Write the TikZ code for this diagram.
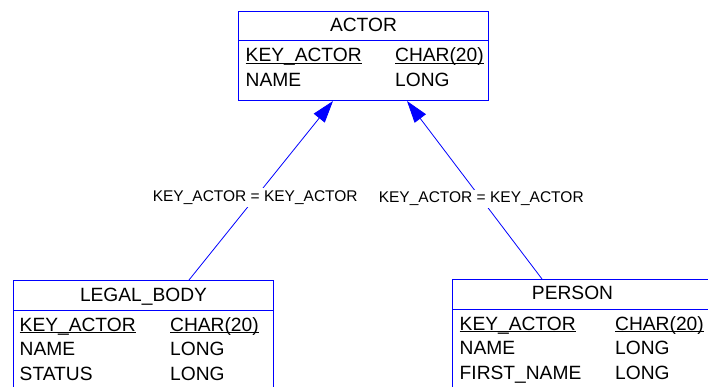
\documentclass[tikz,border=0pt]{standalone}
\usepackage{fontspec}
\setmainfont{Liberation Sans}
\usetikzlibrary{arrows.meta}

\begin{document}
\begin{tikzpicture}[x=1pt, y=-1pt,
    tbl/.style={draw=blue, line width=1pt, rectangle, inner sep=0pt, anchor=north west},
    title/.style={anchor=base, inner sep=0pt, font=\fontsize{19.2}{19}\selectfont},
    field/.style={anchor=base west, inner sep=0pt, font=\fontsize{19.2}{19}\selectfont},
    keyline/.style={black, line width=1.3pt},
    fk/.style={blue, line width=0.8pt, -{Triangle[length=22pt, width=14pt]}},
    rel/.style={fill=white, text=black, inner sep=2.3pt, font=\fontsize{15.5}{15.5}\selectfont}]
    \useasboundingbox (0,0) rectangle (708,387);
    \clip (0,0) rectangle (708,387);

    % ACTOR table
    \node[tbl, minimum width=250pt, minimum height=89pt] (actor) at (238,11) {};
    \draw[blue, line width=1pt] ([yshift=-30pt]actor.north west) -- ([yshift=-30pt]actor.north east);
    \node[title] (actorT) at ([yshift=-21pt]actor.north) {ACTOR};
    \node[field] (actorK) at ([xshift=7.5pt, yshift=-51pt]actor.north west) {KEY\_ACTOR};
    \node[field] (actorKT) at ([xshift=157pt, yshift=-51pt]actor.north west) {CHAR(20)};
    \draw[keyline] ([yshift=-1.8pt]actorK.base west) -- ([yshift=-1.8pt]actorK.base east);
    \draw[keyline] ([yshift=-1.8pt]actorKT.base west) -- ([yshift=-1.8pt]actorKT.base east);
    \foreach \n/\t [count=\r] in {NAME/LONG} {
        \node[field] (actorF\r) at ([xshift=7.5pt, yshift=-51pt-24.5pt*\r]actor.north west) {\n};
        \node[field] (actorFT\r) at ([xshift=157pt, yshift=-51pt-24.5pt*\r]actor.north west) {\t};
    }

    % LEGAL_BODY table
    \node[tbl, minimum width=260pt, minimum height=130pt] (legal) at (13,280) {};
    \draw[blue, line width=1pt] ([yshift=-30pt]legal.north west) -- ([yshift=-30pt]legal.north east);
    \node[title] (legalT) at ([yshift=-21pt]legal.north) {LEGAL\_BODY};
    \node[field] (legalK) at ([xshift=6.5pt, yshift=-51pt]legal.north west) {KEY\_ACTOR};
    \node[field] (legalKT) at ([xshift=157pt, yshift=-51pt]legal.north west) {CHAR(20)};
    \draw[keyline] ([yshift=-1.8pt]legalK.base west) -- ([yshift=-1.8pt]legalK.base east);
    \draw[keyline] ([yshift=-1.8pt]legalKT.base west) -- ([yshift=-1.8pt]legalKT.base east);
    \foreach \n/\t [count=\r] in {NAME/LONG, STATUS/LONG} {
        \node[field] (legalF\r) at ([xshift=6.5pt, yshift=-51pt-24.5pt*\r]legal.north west) {\n};
        \node[field] (legalFT\r) at ([xshift=157pt, yshift=-51pt-24.5pt*\r]legal.north west) {\t};
    }

    % PERSON table
    \node[tbl, minimum width=270pt, minimum height=130pt] (person) at (452,279) {};
    \draw[blue, line width=1pt] ([yshift=-30pt]person.north west) -- ([yshift=-30pt]person.north east);
    \node[title] (personT) at ([xshift=-15pt, yshift=-20pt]person.north) {PERSON};
    \node[field] (personK) at ([xshift=7.5pt, yshift=-51pt]person.north west) {KEY\_ACTOR};
    \node[field] (personKT) at ([xshift=163pt, yshift=-51pt]person.north west) {CHAR(20)};
    \draw[keyline] ([yshift=-1.8pt]personK.base west) -- ([yshift=-1.8pt]personK.base east);
    \draw[keyline] ([yshift=-1.8pt]personKT.base west) -- ([yshift=-1.8pt]personKT.base east);
    \foreach \n/\t [count=\r] in {NAME/LONG, FIRST\_NAME/LONG} {
        \node[field] (personF\r) at ([xshift=7.5pt, yshift=-51pt-24.5pt*\r]person.north west) {\n};
        \node[field] (personFT\r) at ([xshift=163pt, yshift=-51pt-24.5pt*\r]person.north west) {\t};
    }

    % Foreign keys
    \coordinate (legalTop) at ([xshift=176pt]legal.north west);
    \coordinate (personTop) at ([xshift=90pt]person.north west);
    \coordinate (actorL) at ([xshift=95pt]actor.south west);
    \coordinate (actorR) at ([xshift=169pt]actor.south west);
    \draw[fk] (legalTop) -- node[rel, pos=0.46] (relL) {KEY\_ACTOR = KEY\_ACTOR} (actorL);
    \draw[fk] (personTop) -- node[rel, pos=0.45] (relR) {KEY\_ACTOR = KEY\_ACTOR} (actorR);
\end{tikzpicture}
\end{document}
